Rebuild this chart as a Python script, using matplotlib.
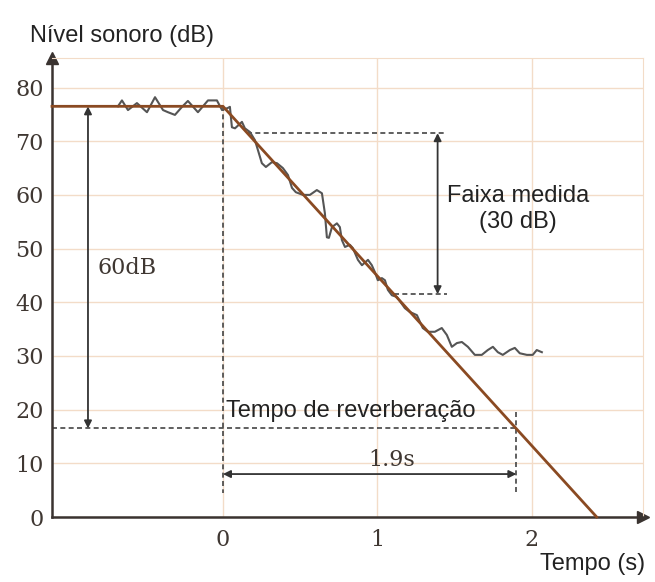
import matplotlib
matplotlib.use("Agg")
import matplotlib.pyplot as plt

# decay curve: steady level, then a straight fall reaching 0 dB
steady_level = 76.5
t60 = 1.9
decay_t = [-1.107, 0.0, 2.42]
decay_db = [steady_level, steady_level, 0.0]

# measured level (wavy trace)
meas_t = [-0.680, -0.654, -0.615, -0.557, -0.492, -0.440, -0.388, -0.356, -0.311,
          -0.265, -0.227, -0.162, -0.097, -0.039, -0.006, 0.032, 0.045, 0.058,
          0.078, 0.123, 0.142, 0.175, 0.207, 0.227, 0.252, 0.278, 0.317, 0.350,
          0.388, 0.421, 0.447, 0.472, 0.518, 0.563, 0.608, 0.641, 0.660, 0.673,
          0.686, 0.706, 0.738, 0.757, 0.770, 0.790, 0.822, 0.841, 0.874, 0.900,
          0.939, 0.964, 0.984, 1.003, 1.029, 1.049, 1.068, 1.094, 1.126, 1.178,
          1.210, 1.256, 1.294, 1.327, 1.372, 1.417, 1.450, 1.482, 1.515, 1.547,
          1.586, 1.631, 1.676, 1.715, 1.748, 1.780, 1.812, 1.858, 1.890, 1.922,
          1.968, 2.006, 2.032, 2.065]
meas_db = [76.5, 77.6, 75.8, 77.1, 75.4, 78.2, 75.8, 75.4, 74.9,
           76.4, 77.5, 75.4, 77.6, 77.6, 75.8, 76.2, 76.4, 72.6,
           72.4, 73.6, 72.4, 71.7, 70.2, 68.3, 65.9, 65.2, 66.1, 65.9,
           65.0, 63.7, 61.3, 60.5, 60.0, 60.0, 60.9, 60.3, 56.6, 52.1,
           52.0, 54.0, 54.7, 54.0, 51.6, 50.3, 50.7, 50.1, 47.9, 46.9,
           47.9, 46.9, 45.6, 44.1, 44.5, 44.1, 42.3, 41.3, 41.0, 38.9,
           38.2, 37.6, 35.2, 34.5, 34.5, 35.2, 33.9, 31.7, 32.4, 32.6,
           31.7, 30.2, 30.2, 31.1, 31.7, 30.7, 30.2, 31.1, 31.5, 30.5,
           30.2, 30.2, 31.1, 30.7]

# measured 30 dB range
range_top = 71.5
range_bottom = 41.5

y_ticks = [0, 10, 20, 30, 40, 50, 60, 70, 80]
x_ticks = [0, 1, 2]

BROWN = "#8a4a22"
GRID = "#f3dcc8"
INK = "#333333"
LABEL = "#3f3732"
SANS = ["Liberation Sans", "DejaVu Sans"]
SERIF = ["DejaVu Serif"]

fig = plt.figure(figsize=(6.55, 5.82), dpi=100)
ax = fig.add_axes([52 / 655, 65 / 582, 591 / 655, 459 / 582])
ax.set_xlim(-1.107, 2.72)
ax.set_ylim(0, 85.5)

ax.set_yticks(y_ticks)
ax.set_xticks(x_ticks)
ax.grid(True, color=GRID, lw=1.0)
ax.set_axisbelow(True)
ax.tick_params(length=0, pad=6, labelcolor=LABEL)
for lab in ax.get_yticklabels() + ax.get_xticklabels():
    lab.set_family(SERIF)
    lab.set_fontsize(16)
ax.tick_params(axis="x", pad=9)

for side in ("top", "right"):
    ax.spines[side].set_color(GRID)
for side in ("left", "bottom"):
    ax.spines[side].set_color("#3a3330")
    ax.spines[side].set_linewidth(1.8)
ax.plot([0], [1], marker="^", ms=8, color="#3a3330", transform=ax.transAxes, clip_on=False)
ax.plot([1], [0], marker=">", ms=8, color="#3a3330", transform=ax.transAxes, clip_on=False)

dash = dict(color="#444444", lw=1.2, ls=(0, (3, 2)))
arrow = dict(arrowstyle="<|-|>", color=INK, lw=1.3, mutation_scale=11, shrinkA=0, shrinkB=0)

# start of decay and T60 markers
ax.plot([0, 0], [steady_level, 4.5], **dash)
ax.plot([t60, t60], [19.5, 4.5], **dash)
ax.plot([-1.107, t60], [steady_level - 60, steady_level - 60], **dash)

# measured range markers
t_top = (steady_level - range_top) / (60 / t60)
t_bot = (steady_level - range_bottom) / (60 / t60)
ax.plot([t_top, 1.45], [range_top, range_top], **dash)
ax.plot([t_bot, 1.45], [range_bottom, range_bottom], **dash)
ax.annotate("", xy=(1.39, range_bottom), xytext=(1.39, range_top), arrowprops=arrow)

ax.plot(meas_t, meas_db, color="#555555", lw=1.5, zorder=3, solid_joinstyle="round")
ax.plot(decay_t, decay_db, color=BROWN, lw=2.0, zorder=4, clip_on=False)

ax.annotate("", xy=(-0.874, steady_level - 60), xytext=(-0.874, steady_level), arrowprops=arrow)
ax.text(-0.815, 46.4, "60dB", family=SERIF, fontsize=16, color=LABEL, va="center")

ax.annotate("", xy=(t60, 8.0), xytext=(0, 8.0), arrowprops=arrow)
ax.text(1.09, 10.6, "1.9s", family=SERIF, fontsize=16, color=LABEL, va="center", ha="center")

ax.text(0.02, 18.7, "Tempo de reverberação", family=SANS, fontsize=17, color="#222222",
        va="baseline")
ax.text(1.91, 58.7, "Faixa medida", family=SANS, fontsize=17, color="#222222",
        ha="center", va="baseline")
ax.text(1.91, 53.9, "(30 dB)", family=SANS, fontsize=17, color="#222222",
        ha="center", va="baseline")

fig.text(30 / 655, 1 - 42 / 582, "Nível sonoro (dB)", family=SANS, fontsize=17,
         color="#222222", va="baseline")
fig.text(540 / 655, 1 - 570 / 582, "Tempo (s)", family=SANS, fontsize=17,
         color="#222222", va="baseline")

fig.savefig("out.png", dpi=100, facecolor="white")
